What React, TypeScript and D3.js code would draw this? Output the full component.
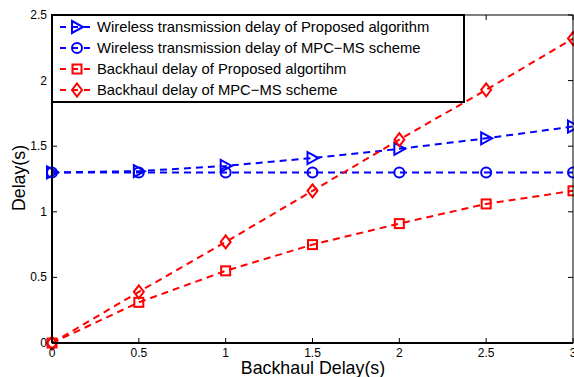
import React from "react";
import * as d3 from "d3";

const xValues = [0, 0.5, 1, 1.5, 2, 2.5, 3];
const wirelessProposed = [1.3, 1.31, 1.35, 1.41, 1.48, 1.56, 1.65];
const wirelessMpc = [1.3, 1.3, 1.3, 1.3, 1.3, 1.3, 1.3];
const backhaulProposed = [0, 0.31, 0.55, 0.75, 0.91, 1.06, 1.16];
const backhaulMpc = [0, 0.39, 0.77, 1.16, 1.55, 1.93, 2.32];
const xTicks = [0, 0.5, 1, 1.5, 2, 2.5, 3];
const yTicks = [0, 0.5, 1, 1.5, 2, 2.5];
const seriesNames = [
    "Wireless transmission delay of Proposed algorithm",
    "Wireless transmission delay of MPC\u2212MS scheme",
    "Backhaul delay of Proposed algortihm",
    "Backhaul delay of MPC\u2212MS scheme"
];

const layout = { width: 574, height: 377, left: 52, right: 573, top: 15, bottom: 343 };
const font = "Liberation Sans, Arial, Helvetica, sans-serif";

type Shape = "tri" | "circle" | "square" | "diamond";

const Marker = ({ shape, x, y, color }: { shape: Shape; x: number; y: number; color: string }) => {
    const common = { fill: "none", stroke: color, strokeWidth: 2 };
    if (shape === "tri") {
        return <path d={`M${x - 5},${y - 6}L${x + 6},${y}L${x - 5},${y + 6}Z`} {...common} />;
    }
    if (shape === "circle") {
        return <circle cx={x} cy={y} r={5} {...common} />;
    }
    if (shape === "square") {
        return <rect x={x - 4.5} y={y - 4.5} width={9} height={9} {...common} />;
    }
    return <path d={`M${x},${y - 6.5}L${x + 5},${y}L${x},${y + 6.5}L${x - 5},${y}Z`} {...common} />;
};

const series: { values: number[]; color: string; shape: Shape }[] = [
    { values: wirelessProposed, color: "#0000ff", shape: "tri" },
    { values: wirelessMpc, color: "#0000ff", shape: "circle" },
    { values: backhaulProposed, color: "#ff0000", shape: "square" },
    { values: backhaulMpc, color: "#ff0000", shape: "diamond" }
];

export default function App() {
    const xScale = d3.scaleLinear().domain([0, 3]).range([layout.left, layout.right]);
    const yScale = d3.scaleLinear().domain([0, 2.5]).range([layout.bottom, layout.top]);
    const line = d3.line<number>().x((d, i) => xScale(xValues[i])).y(d => yScale(d));

    return (
        <svg
            width={layout.width}
            height={layout.height}
            style={{ position: "absolute", left: 0, top: 0, background: "#fff" }}
        >
            {series.map((s, k) => (
                <g key={k}>
                    <path d={line(s.values) || ""} fill="none" stroke={s.color} strokeWidth={2} strokeDasharray="7,5" />
                    {s.values.map((v, i) => (
                        <Marker key={i} shape={s.shape} x={xScale(xValues[i])} y={yScale(v)} color={s.color} />
                    ))}
                </g>
            ))}

            {/* box and ticks */}
            <rect
                x={layout.left}
                y={layout.top}
                width={layout.right - layout.left}
                height={layout.bottom - layout.top}
                fill="none"
                stroke="#000"
                strokeWidth={1}
            />
            <line x1={layout.left} x2={layout.right} y1={layout.bottom} y2={layout.bottom} stroke="#000" strokeWidth={2} />
            <line x1={layout.left} x2={layout.left} y1={layout.top} y2={layout.bottom} stroke="#000" strokeWidth={2} />
            {xTicks.map((t, i) => (
                <g key={i}>
                    <line x1={xScale(t)} x2={xScale(t)} y1={layout.bottom} y2={layout.bottom - 5} stroke="#000" />
                    <line x1={xScale(t)} x2={xScale(t)} y1={layout.top} y2={layout.top + 5} stroke="#000" />
                    <text x={xScale(t)} y={357} textAnchor="middle" fontFamily={font} fontSize={12}>
                        {t}
                    </text>
                </g>
            ))}
            {yTicks.map((t, i) => (
                <g key={i}>
                    <line x1={layout.left} x2={layout.left + 5} y1={yScale(t)} y2={yScale(t)} stroke="#000" />
                    <line x1={layout.right} x2={layout.right - 5} y1={yScale(t)} y2={yScale(t)} stroke="#000" />
                    <text x={47} y={yScale(t) + 4} textAnchor="end" fontFamily={font} fontSize={12}>
                        {t}
                    </text>
                </g>
            ))}

            <text x={313} y={374} textAnchor="middle" fontFamily={font} fontSize={17.8}>
                Backhaul Delay(s)
            </text>
            <text transform="translate(25,178) rotate(-90)" textAnchor="middle" fontFamily={font} fontSize={17.8}>
                Delay(s)
            </text>

            {/* legend */}
            <rect x={layout.left} y={layout.top} width={412} height={87} fill="#fff" stroke="#000" strokeWidth={2} />
            {series.map((s, k) => {
                const y = 27 + k * 21;
                return (
                    <g key={k}>
                        <line x1={60} x2={94} y1={y} y2={y} stroke={s.color} strokeWidth={2} strokeDasharray="6,6" />
                        <Marker shape={s.shape} x={77} y={y} color={s.color} />
                        <text x={97} y={y + 5} fontFamily={font} fontSize={14.8}>
                            {seriesNames[k]}
                        </text>
                    </g>
                );
            })}
        </svg>
    );
}
